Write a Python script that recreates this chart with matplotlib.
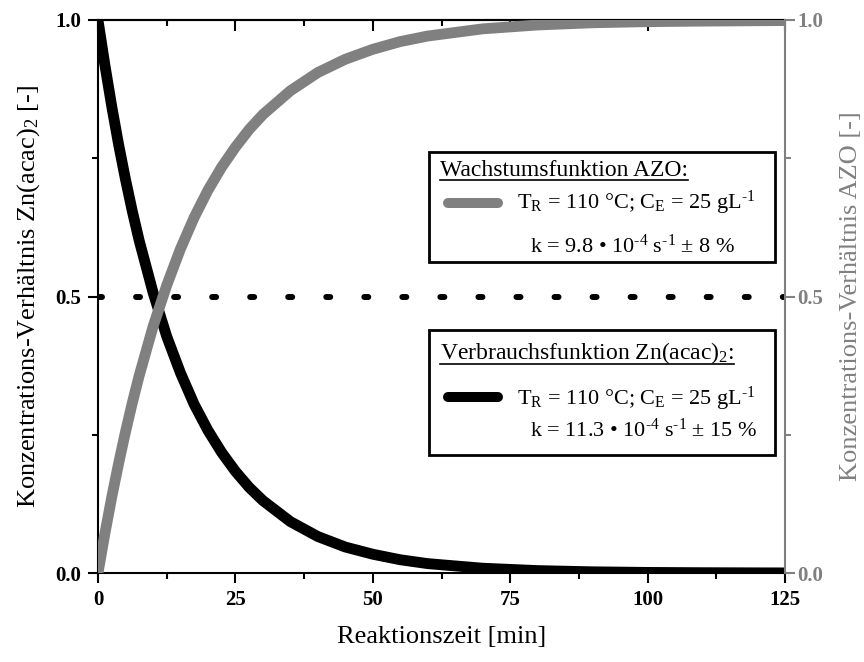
import matplotlib
matplotlib.use("Agg")
import matplotlib.pyplot as plt
from matplotlib.patches import Rectangle
from matplotlib.ticker import MultipleLocator, FormatStrFormatter

plt.rcParams["font.family"] = ["Liberation Serif", "DejaVu Serif"]
plt.rcParams["mathtext.fontset"] = "custom"
plt.rcParams["mathtext.rm"] = "Liberation Serif"
plt.rcParams["mathtext.it"] = "Liberation Serif:italic"

GRAY = "#808080"

## Data
time_min = [0, 1.25, 2.5, 3.75, 5, 6.25, 7.5, 10, 12.5, 15, 17.5, 20, 22.5, 25, 27.5,
            30, 35, 40, 45, 50, 55, 60, 70, 80, 90, 100, 110, 125]
zn_acac = [1.000, 0.919, 0.844, 0.775, 0.712, 0.654, 0.601, 0.508, 0.428, 0.362,
           0.305, 0.258, 0.218, 0.184, 0.155, 0.131, 0.093, 0.066, 0.047, 0.034,
           0.024, 0.017, 0.0087, 0.0044, 0.0022, 0.0011, 0.0006, 0.0002]
azo = [0.000, 0.071, 0.137, 0.198, 0.255, 0.308, 0.357, 0.445, 0.520, 0.586,
       0.643, 0.692, 0.734, 0.770, 0.802, 0.829, 0.872, 0.905, 0.929, 0.947,
       0.961, 0.971, 0.984, 0.991, 0.995, 0.997, 0.998, 0.999]
half_level = 0.5

x_ticks = [0, 25, 50, 75, 100, 125]
y_ticks = [0.0, 0.5, 1.0]

fig = plt.figure(figsize=(8.64, 6.62), dpi=100)
ax = fig.add_axes([0.1134, 0.1344, 0.7952, 0.8354])
ax2 = ax.twinx()

# dotted 0.5 line and Zn(acac)2 decay
ax.plot([0, 125], [half_level, half_level], color="black", lw=4.3,
        linestyle=(0, (0.67, 5.7)), dash_capstyle="round", zorder=1)
ax.plot(time_min, zn_acac, color="black", lw=7.8, solid_joinstyle="round", zorder=2)
ax2.plot(time_min, azo, color=GRAY, lw=7.8, solid_joinstyle="round", zorder=2)

ax.set_xlim(0, 125)
ax.set_ylim(0, 1)
ax2.set_ylim(0, 1)
ax.set_xticks(x_ticks)
ax.set_yticks(y_ticks)
ax2.set_yticks(y_ticks)
ax.xaxis.set_minor_locator(MultipleLocator(12.5))
ax.yaxis.set_minor_locator(MultipleLocator(0.25))
ax2.yaxis.set_minor_locator(MultipleLocator(0.25))
ax.yaxis.set_major_formatter(FormatStrFormatter("%.1f"))
ax2.yaxis.set_major_formatter(FormatStrFormatter("%.1f"))

for s in ["left", "bottom", "top"]:
    ax.spines[s].set_linewidth(1.5)
ax.spines["right"].set_visible(False)
for s in ["left", "bottom", "top"]:
    ax2.spines[s].set_visible(False)
ax2.spines["right"].set_color(GRAY)
ax2.spines["right"].set_linewidth(1.5)

ax.tick_params(axis="both", which="major", direction="out", length=7, width=1.5,
               labelsize=15, pad=5, top=False, right=False)
ax.tick_params(axis="both", which="minor", direction="out", length=4, width=1.5,
               top=False, right=False)
ax2.tick_params(axis="y", which="major", direction="out", length=7, width=1.5,
                labelsize=15, pad=2, colors=GRAY)
ax2.tick_params(axis="y", which="minor", direction="out", length=4, width=1.5,
                colors=GRAY)
for lab in ax.get_xticklabels() + ax.get_yticklabels() + ax2.get_yticklabels():
    lab.set_fontweight("bold")

# inward ticks on the top edge
top = ax.secondary_xaxis("top")
top.set_xticks(x_ticks)
top.xaxis.set_minor_locator(MultipleLocator(12.5))
top.tick_params(which="major", direction="in", length=8, width=1.5, labeltop=False)
top.tick_params(which="minor", direction="in", length=4, width=1.5)
top.spines["top"].set_linewidth(1.5)

ax.set_xlabel("Reaktionszeit [min]", fontsize=19, labelpad=12)
ax.set_ylabel(r"Konzentrations-Verhältnis Zn(acac)$_2$ [-]", fontsize=19, labelpad=10)
ax2.set_ylabel("Konzentrations-Verhältnis AZO [-]", fontsize=19, color=GRAY, labelpad=12)

# legend boxes, drawn by hand
boxes = [
    dict(y0=0.213, y1=0.439, title=r"Verbrauchsfunktion Zn(acac)$_2$:", color="black",
         title_y=0.387, line_y=0.318, t_y=0.304, k_y=0.246, ul_y=0.378,
         k_text=r"k = 11.3 • 10$^{\mathrm{‐4}}$ s$^{\mathrm{‐1}}$ ± 15 %"),
    dict(y0=0.562, y1=0.761, title="Wachstumsfunktion AZO:", color=GRAY,
         title_y=0.718, line_y=0.669, t_y=0.658, k_y=0.579, ul_y=0.711,
         k_text=r"k = 9.8 • 10$^{\mathrm{‐4}}$ s$^{\mathrm{‐1}}$ ± 8 %"),
]
t_text = r"T$_\mathrm{R}$ = 110 °C; C$_\mathrm{E}$ = 25 gL$^{\mathrm{‐1}}$"
titles = []
for b in boxes:
    ax2.add_patch(Rectangle((60.2, b["y0"]), 63.0, b["y1"] - b["y0"], facecolor="white",
                            edgecolor="black", lw=2, zorder=5))
    tt = ax2.text(62.2, b["title_y"], b["title"], fontsize=17, va="baseline", zorder=6)
    titles.append((tt, b["ul_y"]))
    ax2.plot([63.6, 72.8], [b["line_y"], b["line_y"]], color=b["color"], lw=7.2,
             solid_capstyle="round", zorder=6)
    ax2.text(76.2, b["t_y"], t_text, fontsize=16, va="baseline", zorder=6)
    ax2.text(78.6, b["k_y"], b["k_text"], fontsize=16, va="baseline", zorder=6)

# underline the titles
fig.canvas.draw()
inv = ax2.transData.inverted()
for tt, uy in titles:
    bb = tt.get_window_extent()
    xa = inv.transform((bb.x0, 0))[0]
    xb = inv.transform((bb.x1, 0))[0]
    ax2.plot([xa, xb], [uy, uy], color="black", lw=1.2, zorder=6)

fig.savefig("out.png", dpi=100)
